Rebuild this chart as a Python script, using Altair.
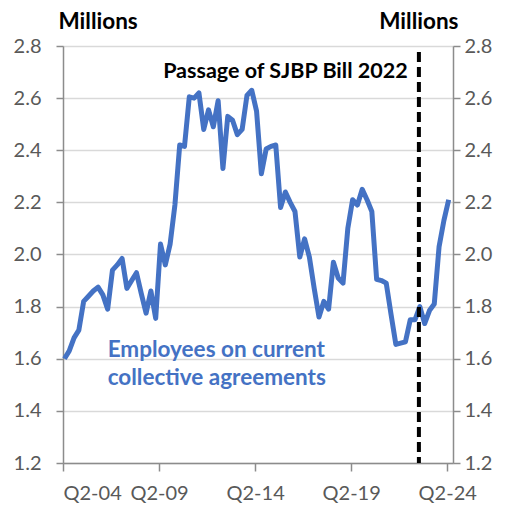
import altair as alt
import pandas as pd

# Quarterly values, Q2-04 .. Q2-24 (millions)
values = [
    1.60, 1.63, 1.68, 1.71, 1.82, 1.84, 1.86, 1.875, 1.845, 1.79,
    1.94, 1.96, 1.985, 1.87, 1.90, 1.93, 1.85, 1.775, 1.86, 1.755,
    2.04, 1.96, 2.04, 2.19, 2.42, 2.415, 2.605, 2.60, 2.62, 2.48,
    2.555, 2.49, 2.59, 2.33, 2.53, 2.515, 2.46, 2.48, 2.61, 2.63,
    2.55, 2.31, 2.405, 2.415, 2.42, 2.18, 2.24, 2.20, 2.165, 1.99,
    2.06, 1.99, 1.87, 1.76, 1.82, 1.79, 1.97, 1.91, 1.89, 2.10,
    2.21, 2.19, 2.25, 2.21, 2.165, 1.905, 1.90, 1.89, 1.77, 1.655,
    1.66, 1.665, 1.75, 1.75, 1.80, 1.735, 1.785, 1.81, 2.03, 2.13,
    2.21,
]
quarter_end_offset = 0.3     # observations dated at the end of each quarter
tick_positions = [0, 20, 40, 60, 80]
tick_labels = ["Q2-04", "Q2-09", "Q2-14", "Q2-19", "Q2-24"]
y_ticks = [1.2, 1.4, 1.6, 1.8, 2.0, 2.2, 2.4, 2.6, 2.8]
bill_quarter = [74.1]        # Q4-22
bill_top = [2.777]
bill_label = ["Passage of SJBP Bill 2022"]
bill_label_pos = [46.3, 2.70]
series_label = ["Employees on current", "collective agreements"]
series_label_x = [9.3, 9.3]
series_label_y = [1.633, 1.526]

FONT = "Lato"
BLUE = "#4472C4"
AXIS_GRAY = "#8C8C8C"
LABEL_GRAY = "#595959"

df = pd.DataFrame({"q": [i + quarter_end_offset for i in range(len(values))], "v": values})
x_scale = alt.Scale(domain=[0, 81.2], nice=False, zero=False)
y_scale = alt.Scale(domain=[1.2, 2.8], nice=False, zero=False)

label_expr = "[" + ",".join(f"'{l}'" for l in tick_labels) + "][round(datum.value/20)]"

x_axis = alt.Axis(
    values=tick_positions, labelExpr=label_expr, grid=False,
    domainColor=AXIS_GRAY, domainWidth=1.5, tickColor=AXIS_GRAY, tickWidth=1.5,
    tickSize=8, labelPadding=12, labelFont=FONT, labelFontSize=20,
    labelColor=LABEL_GRAY, title=None,
)
X = alt.X("q:Q", scale=x_scale, axis=x_axis)

left_axis = alt.Axis(
    values=y_ticks, format=".1f", orient="left", grid=True,
    gridColor="#D9D9D9", gridWidth=1.5,
    domainColor=AXIS_GRAY, domainWidth=1.5, tickColor=AXIS_GRAY, tickWidth=1.5,
    tickSize=7, labelPadding=15, labelFont=FONT, labelFontSize=20,
    labelColor=LABEL_GRAY,
    title="Millions", titleAngle=0, titleAlign="left", titleBaseline="alphabetic",
    titleX=-5, titleY=-18, titleFont=FONT, titleFontSize=22.5,
    titleFontWeight="bold", titleColor="black",
)

right_axis = alt.Axis(
    values=y_ticks, format=".1f", orient="right", grid=False,
    domainColor=AXIS_GRAY, domainWidth=1.5, tickColor=AXIS_GRAY, tickWidth=1.5,
    tickSize=7, labelPadding=4, labelFont=FONT, labelFontSize=20,
    labelColor=LABEL_GRAY,
    title="Millions", titleAngle=0, titleAlign="right", titleBaseline="alphabetic",
    titleX=5, titleY=-18, titleFont=FONT, titleFontSize=22.5,
    titleFontWeight="bold", titleColor="black",
)

line = alt.Chart(df).mark_line(
    color=BLUE, strokeWidth=5, strokeJoin="round"
).encode(
    x=X,
    y=alt.Y("v:Q", scale=y_scale, axis=left_axis),
)

right = alt.Chart(df).mark_line(opacity=0).encode(
    x=X,
    y=alt.Y("v:Q", scale=y_scale, axis=right_axis),
)

bill_df = pd.DataFrame({"q": bill_quarter, "top": bill_top, "bottom": [1.2]})
bill = alt.Chart(bill_df).mark_rule(
    color="black", strokeWidth=4, strokeDash=[10, 5]
).encode(
    x=X,
    y=alt.Y("top:Q", scale=y_scale, axis=None),
    y2="bottom:Q",
)

bill_text_df = pd.DataFrame({"q": [bill_label_pos[0]], "v": [bill_label_pos[1]], "t": bill_label})
bill_text = alt.Chart(bill_text_df).mark_text(
    font=FONT, fontSize=21.5, fontWeight="bold", color="black",
    align="center", baseline="middle",
).encode(
    x=X,
    y=alt.Y("v:Q", scale=y_scale, axis=None),
    text="t:N",
)

series_df = pd.DataFrame({"q": series_label_x, "v": series_label_y, "t": series_label})
series_text = alt.Chart(series_df).mark_text(
    font=FONT, fontSize=22.5, fontWeight="bold", color=BLUE,
    align="left", baseline="middle",
).encode(
    x=X,
    y=alt.Y("v:Q", scale=y_scale, axis=None),
    text="t:N",
)

chart = alt.layer(line, bill, bill_text, series_text, right).resolve_scale(
    y="independent"
).resolve_axis(y="independent").properties(
    width=390, height=417,
    autosize=alt.AutoSizeParams(type="none"),
    padding={"left": 55, "top": 38, "right": 46, "bottom": 42},
).configure_view(stroke=None).configure(background="white")

chart.save("out.html", embed_options={"renderer": "svg", "actions": False})
